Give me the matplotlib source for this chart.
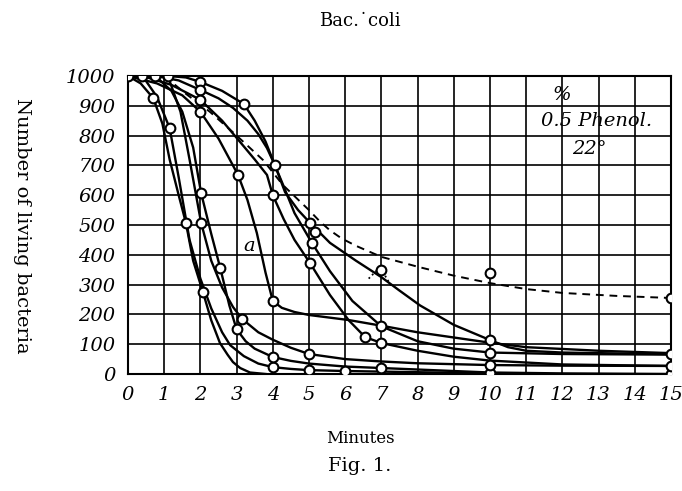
import matplotlib
matplotlib.use("Agg")
import matplotlib.pyplot as plt

# --- data (minutes, number of living bacteria) ---
c1_x = [0, 0.35, 0.7, 0.95, 1.15, 1.4, 1.6, 1.8, 2.07, 2.3, 2.54, 2.75, 2.9, 3.1, 3.37, 3.8]
c1_y = [1000, 975, 925, 840, 720, 600, 507, 380, 275, 180, 104, 65, 40, 20, 5, 0]
c1_m = [0, 2, 6, 8]

c2_x = [0.4, 0.8, 1.15, 1.4, 1.7, 2.0, 2.3, 2.6, 2.82, 3.2, 3.6, 4.0, 4.5, 5.0, 6.0, 7, 8.5, 10]
c2_y = [1000, 930, 825, 660, 450, 320, 220, 140, 97, 60, 35, 23, 17, 13, 10, 8, 5, 3]
c2_m = [0, 2, 11, 13, 14]

c3_x = [0.75, 1.2, 1.5, 1.8, 2.02, 2.3, 2.55, 2.8, 3.0, 3.25, 3.5, 4.0, 4.5, 5, 6, 7, 8, 10, 12, 15]
c3_y = [1000, 950, 880, 760, 607, 470, 355, 230, 150, 110, 85, 57, 44, 35, 25, 20, 15, 5, 2, 0]
c3_m = [0, 4, 6, 8, 11, 15, 17, 19]

c4_x = [1.1, 1.45, 1.7, 2.02, 2.3, 2.6, 2.9, 3.15, 3.6, 4.0, 4.5, 5.0, 6.0, 7, 8, 10, 12, 15]
c4_y = [1000, 880, 720, 507, 380, 290, 225, 185, 140, 115, 88, 67, 50, 42, 36, 30, 28, 27]
c4_m = [3, 7, 11, 15, 17]

a_x = [1.1, 1.6, 2.0, 2.6, 3.2, 3.5, 3.8, 4.06, 4.34, 4.7, 5.03, 5.58, 6.3, 7, 7.5, 8.07,
       9, 10, 10.5, 11, 12, 13.5, 15]
a_y = [1000, 995, 980, 950, 906, 850, 780, 700, 610, 550, 507, 440, 380, 325, 280, 230,
       165, 114, 90, 78, 72, 69, 67]
a_m = [0, 2, 4, 7, 10, 17, 22]

b_x = [0.75, 1.4, 2.0, 2.5, 2.9, 3.3, 3.6, 3.84, 4.06, 4.3, 4.6, 5.08, 5.58, 6.2, 7, 8, 9,
       10, 12, 15]
b_y = [1000, 985, 953, 925, 893, 850, 805, 758, 700, 630, 540, 440, 345, 245, 160, 110, 85,
       72, 67, 65]
b_m = [2, 11, 14, 17]

c_x = [0.4, 1.2, 2.0, 2.6, 3.1, 3.5, 3.84, 4.0, 4.3, 4.6, 5.03, 5.58, 6.1, 6.55, 7, 8, 9,
       10, 12, 15]
c_y = [1000, 970, 920, 850, 778, 720, 668, 600, 520, 450, 372, 265, 180, 124, 104, 78, 58,
       45, 32, 27]
c_m = [2, 7, 10, 13, 14]

d_x = [0, 0.8, 1.5, 2.0, 2.5, 3.04, 3.3, 3.56, 3.8, 4.0, 4.25, 4.6, 5.0, 6.1, 7, 8, 10, 11,
       13, 15]
d_y = [1000, 975, 935, 880, 790, 668, 584, 473, 340, 245, 222, 208, 198, 181, 162, 140, 105,
       90, 78, 70]
d_m = [3, 5, 9]

dash_x = [1.0, 1.6, 2.26, 3.0, 3.73, 4.28, 5.0, 5.3, 5.58, 5.9, 6.3, 7, 8, 9, 10, 11, 12,
          13.5, 15]
dash_y = [1000, 940, 880, 800, 718, 634, 550, 512, 482, 455, 430, 393, 360, 330, 305, 285,
          272, 262, 255]

dot_x = [6.65, 6.85, 7.0, 7.15, 7.3]
dot_y = [320, 345, 352, 320, 290]

extra_x = [5.17, 7, 10]
extra_y = [476, 350, 340]

x_ticks = list(range(16))
y_ticks = list(range(0, 1001, 100))

plt.rcParams['font.family'] = 'DejaVu Serif'

fig = plt.figure(figsize=(6.82, 4.91), dpi=100)
ax = fig.add_axes([0.1877, 0.2383, 0.796, 0.607])

solid = [(c1_x, c1_y, c1_m), (c2_x, c2_y, c2_m), (c3_x, c3_y, c3_m), (c4_x, c4_y, c4_m),
         (a_x, a_y, a_m), (b_x, b_y, b_m), (c_x, c_y, c_m), (d_x, d_y, d_m)]
for xs, ys, ms in solid:
    ax.plot(xs, ys, '-', color='black', lw=1.7, zorder=3)
    ax.plot([xs[i] for i in ms], [ys[i] for i in ms], 'o', ms=7, mfc='white',
            mec='black', mew=1.5, zorder=4)

ax.plot(dash_x, dash_y, '--', color='black', lw=1.4, dashes=(4, 3), zorder=3)
ax.plot([dash_x[-1]], [dash_y[-1]], 'o', ms=7, mfc='white', mec='black', mew=1.5, zorder=4)
ax.plot(dot_x, dot_y, ':', color='black', lw=1.3, zorder=3)
ax.plot(extra_x, extra_y, 'o', ms=7, mfc='white', mec='black', mew=1.5, zorder=4)

ax.set_xlim(0, 15)
ax.set_ylim(0, 1000)
ax.set_xticks(x_ticks)
ax.set_yticks(y_ticks)
ax.set_xticklabels([str(t) for t in x_ticks], fontstyle='italic', fontsize=14)
ax.set_yticklabels([str(t) for t in y_ticks], fontstyle='italic', fontsize=14)
ax.tick_params(length=0, pad=9)
ax.grid(True, color='black', lw=1.2)
ax.set_axisbelow(True)
for s in ax.spines.values():
    s.set_linewidth(1.5)

ax.text(12.0, 935, '%', fontstyle='italic', fontsize=14, ha='center', va='center')
ax.text(12.95, 848, '0.5 Phenol.', fontstyle='italic', fontsize=14, ha='center', va='center')
ax.text(12.75, 755, '22°', fontstyle='italic', fontsize=14, ha='center', va='center')
ax.text(3.35, 430, 'a', fontstyle='italic', fontsize=14, ha='center', va='center')

fig.text(0.528, 0.957, 'Bac.˙coli', fontsize=13, ha='center', va='center')
fig.text(0.032, 0.54, 'Number of living bacteria', fontsize=14, rotation=270,
         ha='center', va='center')
fig.text(0.528, 0.107, 'Minutes', fontsize=12, ha='center', va='center')
fig.text(0.528, 0.05, 'Fig. 1.', fontsize=14, ha='center', va='center')

fig.savefig('out.png', dpi=100)
